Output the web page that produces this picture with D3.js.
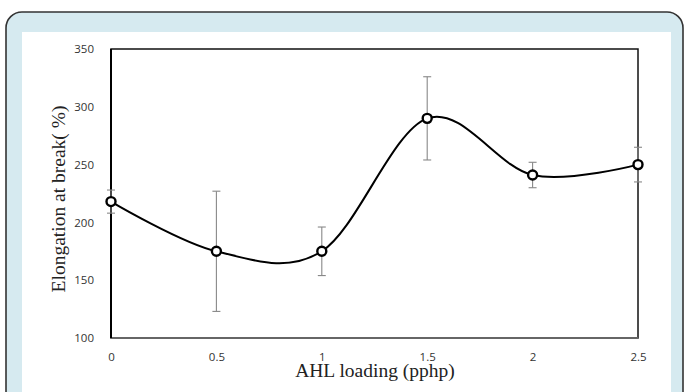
<!DOCTYPE html>
<html><head><meta charset="utf-8">
<script src="https://cdn.jsdelivr.net/npm/d3@7"></script>
<style>html,body{margin:0;padding:0;background:#fff;}svg{display:block;}</style>
</head><body>
<script>
const loadings = [0, 0.5, 1, 1.5, 2, 2.5];
const elongation = [218, 175, 175, 290, 241, 250];
const errors = [10, 52, 21, 36, 11, 15];
const xTicks = [0, 0.5, 1, 1.5, 2, 2.5];
const yTicks = [100, 150, 200, 250, 300, 350];
const xTitle = "AHL loading (pphp)";
const yTitle = "Elongation at break( %)";

const W = 685, H = 392;
const svg = d3.select("body").append("svg").attr("width", W).attr("height", H);

// outer frame
svg.append("rect").attr("x", 6).attr("y", 12).attr("width", 677).attr("height", 420)
  .attr("rx", 16).attr("fill", "#d6eaf0").attr("stroke", "#333").attr("stroke-width", 1.6);
svg.append("rect").attr("x", 22).attr("y", 32).attr("width", 649).attr("height", 400).attr("fill", "#fff");

const L = 111, R = 638, T = 49, B = 338;
const x = d3.scaleLinear().domain([0, 2.5]).range([L, R]);
const y = d3.scaleLinear().domain([100, 350]).range([B, T]);

// plot frame
svg.append("rect").attr("x", L).attr("y", T).attr("width", R - L).attr("height", B - T)
  .attr("fill", "none").attr("stroke", "#111").attr("stroke-width", 1.5);
svg.append("line").attr("x1", L).attr("x2", R).attr("y1", B).attr("y2", B)
  .attr("stroke", "#666").attr("stroke-width", 2);
svg.append("line").attr("x1", L).attr("x2", L).attr("y1", T).attr("y2", B)
  .attr("stroke", "#000").attr("stroke-width", 2);

// axes labels via d3 axes
const yAxis = svg.append("g").attr("transform", `translate(${L - 14},0)`)
  .call(d3.axisLeft(y).tickValues(yTicks).tickSize(0).tickFormat(d3.format("d")));
yAxis.select(".domain").remove();
yAxis.selectAll("text").attr("font-family", "Open Sans, Liberation Sans, sans-serif")
  .attr("font-size", 11.5).attr("fill", "#333");

const xAxis = svg.append("g").attr("transform", `translate(0,${B + 12})`)
  .call(d3.axisBottom(x).tickValues(xTicks).tickSize(0).tickFormat(d => String(d)));
xAxis.select(".domain").remove();
xAxis.selectAll("text").attr("font-family", "Open Sans, Liberation Sans, sans-serif")
  .attr("font-size", 11.5).attr("fill", "#333").attr("dy", "0.71em");

// error bars
const eb = svg.append("g").attr("stroke", "#888").attr("stroke-width", 1.1);
loadings.forEach((v, i) => {
  const cx = x(v), top = y(elongation[i] + errors[i]), bot = y(elongation[i] - errors[i]);
  eb.append("line").attr("x1", cx).attr("x2", cx).attr("y1", top).attr("y2", bot);
  eb.append("line").attr("x1", cx - 4).attr("x2", cx + 4).attr("y1", top).attr("y2", top);
  eb.append("line").attr("x1", cx - 4).attr("x2", cx + 4).attr("y1", bot).attr("y2", bot);
});

// smooth line
const pts = loadings.map((v, i) => [v, elongation[i]]);
const line = d3.line().x(d => x(d[0])).y(d => y(d[1])).curve(d3.curveCatmullRom.alpha(0));
svg.append("path").datum(pts).attr("d", line).attr("fill", "none")
  .attr("stroke", "#000").attr("stroke-width", 2);

// markers
svg.append("g").selectAll("circle").data(pts).join("circle")
  .attr("cx", d => x(d[0])).attr("cy", d => y(d[1])).attr("r", 4.5)
  .attr("fill", "#fff").attr("stroke", "#000").attr("stroke-width", 2.4);

// titles
svg.append("text").attr("x", 375).attr("y", 377).attr("text-anchor", "middle")
  .attr("font-family", "Liberation Serif, serif").attr("font-size", 19.5).attr("fill", "#222")
  .text(xTitle);
svg.append("text").attr("transform", `translate(65,199) rotate(-90)`).attr("text-anchor", "middle")
  .attr("font-family", "Liberation Serif, serif").attr("font-size", 19.5).attr("fill", "#222")
  .text(yTitle);
</script>
</body></html>
